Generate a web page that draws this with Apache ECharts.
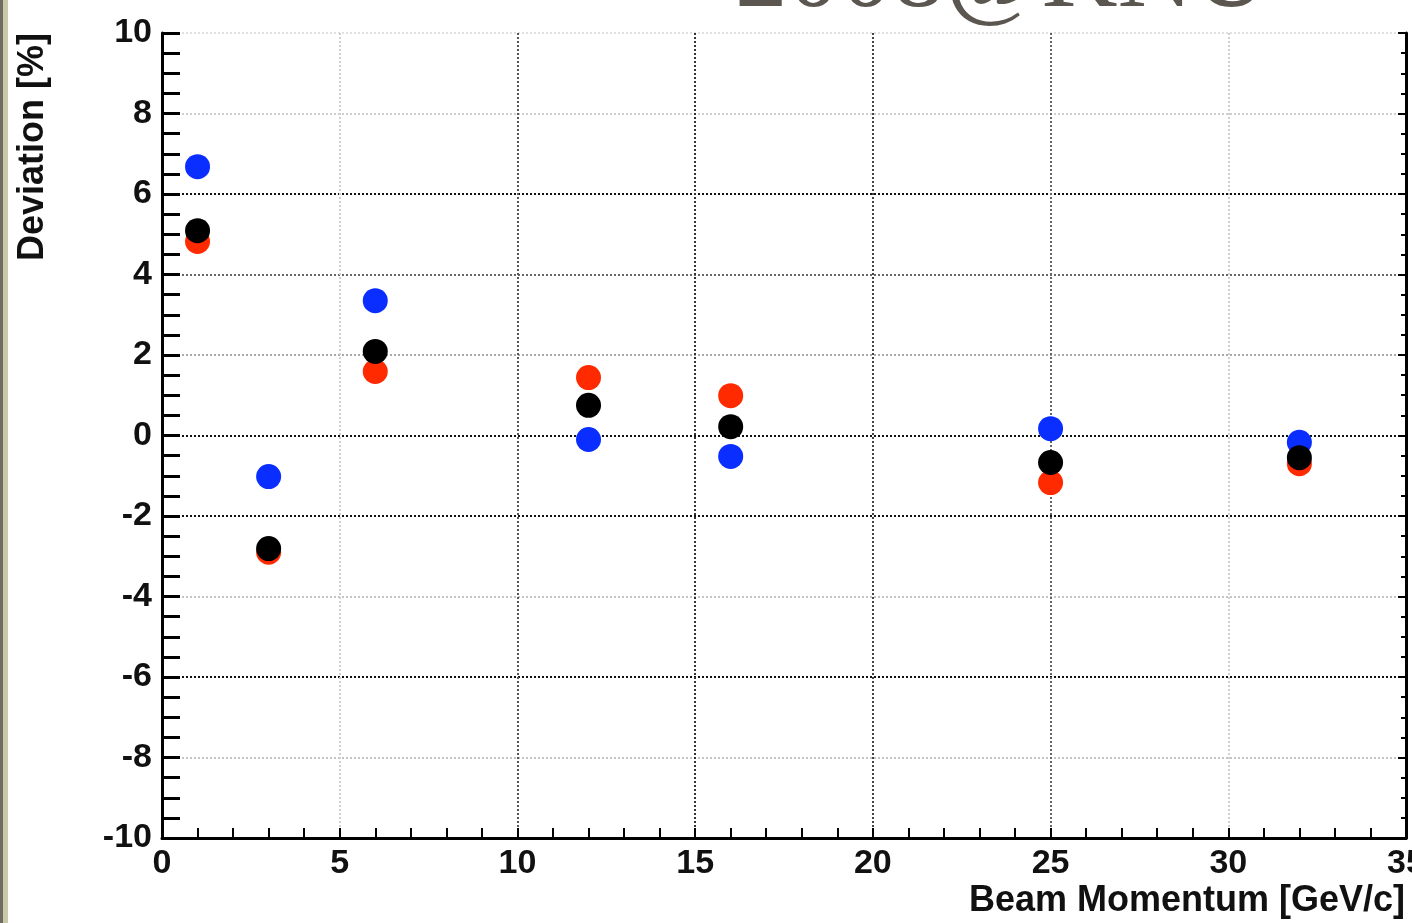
<!DOCTYPE html>
<html><head><meta charset="utf-8">
<script src="https://cdn.jsdelivr.net/npm/echarts@6/dist/echarts.min.js"></script>
<style>html,body{margin:0;padding:0;background:#fff}#c{width:1412px;height:923px}</style>
</head><body><div id="c"></div>
<script>
const momenta = [1, 3, 6, 12, 16, 25, 32];
const redValues = [4.82, -2.9, 1.59, 1.44, 0.99, -1.17, -0.7];
const blueValues = [6.68, -1.02, 3.35, -0.1, -0.52, 0.17, -0.17];
const blackValues = [5.09, -2.81, 2.09, 0.75, 0.22, -0.67, -0.55];
const xTitle = 'Beam Momentum [GeV/c]';
const yTitle = 'Deviation [%]';
const watermark = '2008@KNU';

const pairs = v => momenta.map((m, i) => [m, v[i]]);
const font = 'Liberation Sans, Arial, sans-serif';
const chart = echarts.init(document.getElementById('c'));
const mk = (name, color, vals) => ({
  name, type: 'scatter', data: pairs(vals), symbol: 'circle', symbolSize: 25,
  itemStyle: { color, opacity: 1 }, emphasis: { disabled: true }, z: 5
});
chart.setOption({
  animation: false,
  backgroundColor: '#fff',
  grid: { left: 162, right: 6, top: 33, bottom: 85, outerBoundsMode: 'none', containLabel: false },
  xAxis: {
    type: 'value', min: 0, max: 35, interval: 5,
    axisLine: { show: true, onZero: false, lineStyle: { color: '#000', width: 3 } },
    axisTick: { show: true, inside: true, length: 10, lineStyle: { color: '#000', width: 2 } },
    minorTick: { show: true, splitNumber: 5, length: 10, lineStyle: { color: '#000', width: 2 } },
    axisLabel: { fontFamily: font, fontSize: 34, fontWeight: 'bold', color: '#111', margin: 9, hideOverlap: false },
    splitLine: { show: true, lineStyle: { type: 'dotted', width: 2,
      color: ['rgba(0,0,0,0)', '#cfcfcf', '#555', '#333', '#444', '#666', '#cfcfcf', 'rgba(0,0,0,0)'] } }
  },
  yAxis: [{
    type: 'value', min: -10, max: 10, interval: 2,
    axisLine: { show: true, onZero: false, lineStyle: { color: '#000', width: 3 } },
    axisTick: { show: true, inside: true, length: 18, lineStyle: { color: '#000', width: 3 } },
    minorTick: { show: true, splitNumber: 4, length: 18, lineStyle: { color: '#000', width: 3 } },
    axisLabel: { fontFamily: font, fontSize: 34, fontWeight: 'bold', color: '#111', margin: 10 },
    splitLine: { show: true, lineStyle: { type: 'dotted', width: 2,
      color: ['rgba(0,0,0,0)', '#c4c4c4', '#111', '#c4c4c4', '#111', '#111', '#aaa', '#666', '#111', '#cfcfcf', '#e0e0e0'] } }
  }, {
    type: 'value', min: -10, max: 10, interval: 2, position: 'right',
    axisLine: { show: true, onZero: false, lineStyle: { color: '#000', width: 3 } },
    axisTick: { show: true, inside: true, length: 8, lineStyle: { color: '#000', width: 2 } },
    minorTick: { show: true, splitNumber: 4, length: 5, lineStyle: { color: '#000', width: 2 } },
    axisLabel: { show: false }, splitLine: { show: false }
  }],
  series: [mk('red', '#ff2a00', redValues), mk('blue', '#0a2eff', blueValues), mk('black', '#000000', blackValues)],
  graphic: [
    { type: 'rect', left: 0, top: 0, shape: { x: 0, y: 0, width: 3, height: 923 }, style: { fill: '#6e6e60' } },
    { type: 'rect', left: 3, top: 0, shape: { x: 0, y: 0, width: 5, height: 923 }, style: { fill: '#c9c9aa' } },
    { type: 'text', x: 735, y: -74, style: { text: watermark, font: '105px "Liberation Serif", serif', fill: '#5b564f', textAlign: 'left', textVerticalAlign: 'top' } },
    { type: 'text', x: 1405, y: 901, style: { text: xTitle, font: 'bold 36px "Liberation Sans", Arial, sans-serif', fill: '#111', textAlign: 'right', textVerticalAlign: 'middle' } },
    { type: 'text', x: 33, y: 33, rotation: Math.PI / 2, style: { text: yTitle, font: 'bold 36px "Liberation Sans", Arial, sans-serif', fill: '#111', textAlign: 'right', textVerticalAlign: 'middle' } }
  ]
});
</script></body></html>
